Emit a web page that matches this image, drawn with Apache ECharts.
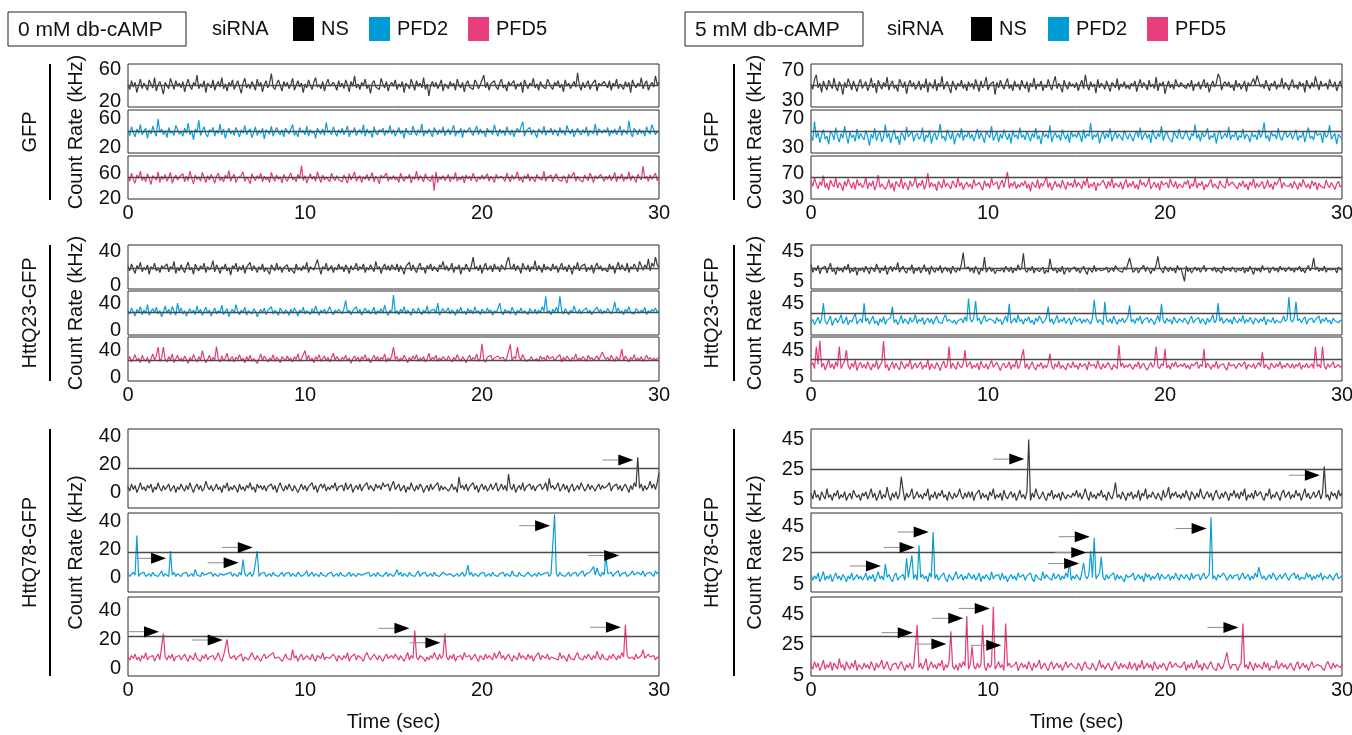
<!DOCTYPE html>
<html>
<head>
<meta charset="utf-8">
<script src="https://cdn.jsdelivr.net/npm/echarts@6/dist/echarts.min.js"></script>
<style>
  html, body { margin: 0; background: #fff; }
  #chart { width: 1352px; height: 735px; }
</style>
</head>
<body>
<div id="chart"></div>
<script>
// one sample every 0.1 s, 0..30 s
const TIME_STEP = 0.1;

// ---- 0 mM db-cAMP ----
const gfp0NS = [
  41,35,46,38,44,31,40,48,36,43,39,34,47,42,37,50,33,41,45,38,29,44,40,36,49,42,35,46,39,43,
  37,45,32,41,48,39,35,44,40,53,36,42,38,46,31,43,40,37,47,34,41,45,38,50,36,42,33,44,39,47,
  35,41,46,38,30,43,49,37,42,36,45,40,34,48,39,44,32,41,46,37,43,55,38,35,42,47,40,33,45,39,
  44,36,41,49,34,40,46,38,43,31,42,37,47,40,35,44,50,38,41,36,45,33,42,48,39,37,44,40,34,46,
  38,43,36,47,41,32,45,39,52,37,42,35,44,40,48,36,41,30,43,46,38,40,35,49,42,37,45,33,41,44,
  39,47,35,42,38,45,31,43,40,36,48,41,34,46,39,43,37,50,35,42,27,40,45,38,44,36,41,47,33,42,
  40,36,45,39,43,34,48,41,37,44,32,42,46,38,40,35,47,43,36,41,39,53,37,44,34,42,40,46,38,35,
  43,48,37,41,33,45,40,38,46,35,42,39,44,31,47,41,36,43,40,49,37,42,34,45,39,41,36,48,43,38,
  35,44,40,46,37,42,32,47,39,43,36,41,45,38,56,40,34,44,37,42,46,35,41,39,47,33,43,40,38,45,
  41,37,46,34,43,39,48,36,42,40,35,45,38,44,31,47,41,37,43,39,50,36,42,46,34,40,44,38,52,41,44];
const gfp0PFD2 = [
  44,37,49,41,35,46,40,52,38,43,47,33,45,39,50,42,36,60,41,46,38,44,34,48,40,43,37,51,45,39,
  42,36,47,40,54,38,44,31,46,41,58,37,43,49,39,35,45,42,48,36,44,40,53,38,46,33,42,47,39,44,
  37,48,42,35,45,40,51,38,43,46,34,41,49,37,44,40,47,32,45,42,39,50,36,43,48,41,38,45,35,47,
  43,39,46,52,37,42,35,48,41,44,38,50,36,45,40,43,33,47,42,39,46,37,55,41,44,38,49,42,36,45,
  40,47,38,43,50,35,44,41,48,37,42,45,39,52,36,46,40,43,34,49,41,38,45,42,47,37,44,40,51,39,
  45,36,42,48,39,44,33,47,41,43,38,50,42,37,45,40,53,36,44,39,46,41,35,48,43,38,45,40,49,37,
  42,46,38,44,51,36,43,40,47,34,45,41,39,48,42,37,44,50,38,46,40,43,35,47,41,44,38,52,42,36,
  46,40,44,37,49,42,38,45,35,43,47,41,39,56,36,44,42,48,38,45,40,34,46,43,39,50,37,44,41,47,
  38,45,42,36,48,40,44,37,51,43,39,46,35,42,47,41,38,45,40,49,36,44,42,39,53,37,46,43,40,45,
  41,48,36,44,40,46,38,43,50,37,45,42,39,57,41,35,47,43,38,46,40,44,36,49,42,39,52,45,38,43,40];
const gfp0PFD5 = [
  55,47,60,50,44,57,52,63,48,54,46,59,51,42,56,53,49,62,45,55,50,58,47,53,61,44,52,57,49,54,
  51,59,46,55,48,63,52,43,57,50,54,47,61,53,45,56,49,58,52,44,55,60,48,53,46,57,51,64,47,54,
  58,45,52,49,56,62,47,54,50,43,59,53,48,56,51,60,46,55,49,53,45,61,52,47,57,50,54,44,58,51,
  47,55,60,49,53,46,58,51,72,48,56,44,52,59,50,55,47,62,53,45,57,49,54,51,46,60,52,48,56,50,
  53,46,57,51,44,59,49,55,62,47,52,56,45,54,50,58,48,53,61,46,55,51,43,57,52,49,60,47,54,50,
  56,49,53,45,60,52,47,55,51,58,44,54,50,63,48,56,52,46,59,51,53,47,57,32,62,45,54,50,56,48,
  52,58,46,54,50,61,47,53,49,56,44,57,51,55,48,60,52,46,54,50,57,50,53,59,47,55,51,45,58,52,
  49,55,51,47,60,53,46,57,50,54,62,48,53,45,56,51,59,47,54,50,46,58,52,55,49,63,47,53,51,57,
  46,54,59,50,53,47,56,51,44,58,52,49,61,47,55,50,53,46,57,52,48,60,54,45,56,51,49,58,53,47,
  55,50,57,48,53,61,46,55,51,59,47,54,50,62,48,56,52,45,58,53,49,71,51,55,47,57,50,53,60,48,52];

const q23_0NS = [
  22,17,25,19,14,23,20,27,16,21,18,24,13,22,19,26,17,21,15,23,20,18,25,16,22,19,28,14,21,17,
  24,19,15,22,27,18,21,13,25,20,17,23,19,26,15,22,18,21,29,16,24,20,14,22,19,25,17,21,12,23,
  20,26,16,22,18,24,14,21,19,27,17,23,20,15,22,18,25,16,21,19,13,24,20,17,26,18,22,15,21,19,
  24,16,20,22,14,25,18,21,17,23,19,27,15,22,20,18,24,30,21,13,22,19,26,17,20,23,15,21,18,25,
  19,22,16,24,20,14,23,18,21,26,17,22,19,25,15,21,18,24,20,16,28,19,22,14,21,25,18,23,17,24,
  21,18,25,16,23,19,13,22,20,27,17,24,19,15,22,26,18,21,14,23,20,25,17,22,19,16,24,21,28,18,
  23,17,20,26,15,22,19,24,13,21,18,25,20,16,23,33,19,22,17,24,14,21,26,18,20,23,16,25,19,22,
  16,24,21,18,27,33,22,19,25,17,23,20,14,26,21,18,24,16,22,19,29,17,23,20,15,25,18,22,21,17,
  25,19,23,15,21,26,18,22,16,24,20,13,23,19,27,17,22,20,25,16,21,18,24,14,22,26,19,23,17,20,
  22,16,25,19,23,14,21,27,18,24,20,17,26,15,22,19,25,21,16,28,23,18,24,20,31,17,26,22,33,24,21];
const q23_0PFD2 = [
  29,24,33,27,21,31,26,35,23,30,25,38,22,28,32,26,34,24,29,20,27,36,25,31,23,35,28,22,40,26,
  33,24,29,21,27,32,25,30,23,36,26,31,22,28,34,25,30,21,27,33,24,29,26,37,23,28,32,20,27,31,
  25,38,28,23,30,26,34,22,29,27,24,32,28,20,26,31,25,33,23,29,27,35,24,30,26,22,33,28,24,30,
  27,22,31,25,33,28,21,30,26,34,24,29,27,23,32,25,36,28,22,30,26,31,24,29,35,27,23,30,26,31,
  28,24,32,44,26,30,23,29,27,35,25,31,22,28,33,26,30,24,28,34,23,29,26,32,25,37,27,22,30,26,
  52,25,29,23,31,27,35,24,30,26,22,32,28,25,33,27,23,30,26,36,24,29,27,31,25,40,22,28,32,26,
  29,33,24,30,27,22,31,26,34,25,28,23,32,27,30,24,35,26,29,23,31,28,25,33,27,30,22,29,26,32,
  40,27,23,31,26,29,24,34,28,22,30,26,33,25,29,27,23,32,28,25,31,24,30,26,35,28,50,25,29,23,
  31,27,34,26,50,29,24,32,27,23,30,26,36,28,25,31,24,29,27,33,25,30,23,28,26,34,27,31,24,29,
  26,32,28,24,30,42,27,33,25,29,23,31,27,35,26,28,24,32,29,25,30,27,34,23,29,26,31,28,33,27,29];
const q23_0PFD5 = [
  26,31,23,28,34,25,29,22,33,27,24,30,21,28,35,26,32,45,24,29,45,27,23,31,26,35,22,28,33,25,
  29,24,32,27,21,30,25,34,28,23,31,26,40,29,22,27,33,24,30,26,46,28,23,32,25,29,36,24,28,31,
  23,30,27,34,25,29,22,31,26,33,24,28,30,21,27,35,25,32,28,23,29,26,34,24,30,27,22,31,28,25,
  32,26,29,23,31,27,35,24,28,30,40,26,33,25,29,22,31,27,34,24,28,32,25,30,23,29,36,26,31,27,
  24,30,27,33,25,29,21,28,32,26,30,23,31,27,34,25,29,22,28,33,26,31,24,30,27,35,23,29,26,32,
  45,27,31,24,29,26,33,28,22,30,25,32,27,34,24,29,26,31,23,28,36,25,30,27,33,24,29,26,31,28,
  25,32,27,23,30,26,34,28,24,31,27,22,29,33,25,30,27,35,24,28,50,26,23,30,28,33,25,29,27,32,
  28,26,30,24,29,27,49,25,31,28,45,30,26,34,28,24,24,27,31,25,25,28,24,32,27,30,25,33,28,26,
  31,25,29,27,34,23,30,26,32,28,24,30,27,35,25,29,26,31,28,24,33,27,30,25,29,32,26,28,38,31,
  27,30,25,33,28,24,31,26,29,42,25,32,28,23,30,27,34,25,29,26,31,24,28,33,27,30,25,29,26,28,30];

const q78_0NS = [
  4,1,6,2,5,0,3,7,2,4,1,5,3,6,0,4,2,7,3,1,5,2,4,6,1,3,5,0,4,2,
  6,3,1,5,2,7,3,0,4,6,2,5,1,3,8,4,2,5,1,3,6,2,4,0,5,3,7,1,4,2,
  5,3,0,6,2,4,1,5,3,7,2,4,0,6,3,5,2,5,1,4,3,6,2,5,0,4,7,3,1,5,
  2,6,3,1,5,4,0,3,6,2,5,1,4,3,7,2,5,0,4,6,3,6,1,4,2,5,3,7,1,4,
  3,5,1,7,2,4,6,0,3,5,2,6,1,4,3,7,2,5,4,1,6,3,5,2,7,4,3,6,1,5,
  8,2,4,6,1,3,5,0,4,2,7,3,1,5,2,6,4,0,3,5,1,6,2,4,3,7,1,5,2,4,
  5,1,3,6,2,4,0,11,3,5,2,6,1,4,3,7,2,5,0,4,6,2,5,1,3,6,2,4,7,1,
  3,6,2,5,1,13,4,2,6,0,3,5,2,7,1,4,3,6,2,5,1,4,3,6,2,4,7,1,10,3,
  5,2,4,7,1,3,6,2,5,0,4,6,1,3,5,2,7,4,1,3,6,2,5,3,1,4,6,2,5,3,
  2,5,7,1,4,3,6,2,5,1,4,6,3,0,5,2,7,4,25,3,6,1,5,2,4,8,3,6,2,7,14];
const q78_0PFD2 = [
  3,1,2,4,2,30,1,3,2,4,1,2,3,1,4,2,3,1,2,5,1,3,2,1,19,2,4,1,3,2,
  1,3,2,4,1,2,3,1,6,2,3,1,4,2,1,3,2,4,1,3,2,1,3,4,2,1,3,2,4,1,
  3,2,1,4,2,13,3,1,2,4,1,3,2,19,1,3,2,4,1,2,3,1,4,2,3,1,2,4,1,3,
  2,4,1,3,2,1,4,3,1,2,3,5,1,2,4,1,3,2,1,4,2,3,1,3,2,4,1,2,3,1,
  4,2,3,1,2,4,1,3,2,1,3,4,2,1,3,2,4,1,2,3,1,4,2,3,1,2,4,1,3,2,
  1,3,6,2,4,1,3,2,1,4,2,3,1,2,5,1,3,2,4,1,2,3,1,4,2,3,1,2,4,3,
  2,1,3,4,1,2,3,1,2,4,1,3,9,2,4,1,3,2,1,3,2,4,1,2,3,1,4,2,3,1,
  3,2,4,1,3,2,1,5,2,3,1,4,2,3,1,2,4,3,1,2,3,1,4,2,1,3,2,4,1,3,
  2,45,3,1,4,2,3,1,2,4,1,3,2,4,1,3,2,5,1,3,2,4,3,8,2,7,3,1,4,2,
  16,3,2,4,1,3,2,5,1,3,2,4,1,2,3,5,2,1,4,3,2,5,1,3,2,4,3,1,5,3,4];
const q78_0PFD5 = [
  8,6,9,7,10,6,8,5,9,7,11,6,8,7,9,5,8,10,6,7,24,8,6,9,7,10,5,8,7,9,
  6,8,10,7,5,9,8,6,11,7,8,5,9,7,10,6,8,7,9,6,8,11,7,5,9,8,20,10,7,8,
  9,6,8,7,10,5,8,9,6,7,11,8,6,9,7,5,8,10,7,6,9,8,11,7,6,8,9,5,7,10,
  7,8,6,13,7,9,5,8,10,6,7,9,8,6,10,7,5,9,8,7,11,6,8,9,7,6,10,8,5,9,
  8,6,9,7,11,5,8,7,10,6,9,8,7,5,9,11,8,6,7,10,8,6,9,7,5,8,10,7,6,9,
  7,10,8,6,9,7,5,8,11,6,9,7,26,8,6,9,10,7,5,8,6,9,7,11,8,6,10,7,9,24,
  8,6,9,7,10,5,8,7,9,6,11,8,7,9,6,8,10,7,5,9,8,6,10,7,9,8,6,11,7,8,
  12,7,9,6,8,10,7,5,9,8,6,11,7,9,8,6,10,7,9,5,8,7,11,6,9,8,7,10,6,8,
  9,7,8,6,11,7,9,8,5,10,7,8,6,9,11,7,8,6,9,7,10,8,6,9,7,12,8,6,10,7,
  8,6,9,7,10,8,6,9,7,11,8,30,9,7,7,8,6,10,7,8,9,13,7,6,10,8,7,9,6,8,7];

// ---- 5 mM db-cAMP ----
const gfp5NS = [
  52,45,58,64,47,53,41,56,49,44,57,51,46,60,48,43,55,50,38,54,47,59,52,44,56,49,42,53,58,46,
  51,55,43,49,60,47,53,40,57,50,45,54,48,61,44,52,56,46,50,42,58,53,47,55,39,51,57,48,54,45,
  49,56,44,52,47,59,41,54,50,46,58,43,53,48,62,45,51,55,47,40,56,50,44,53,49,57,46,52,43,55,
  48,53,45,58,50,42,56,47,52,61,44,51,49,55,38,54,47,57,50,45,53,59,46,51,43,56,48,52,44,57,
  50,46,55,41,53,48,60,45,52,49,56,43,51,47,58,50,44,54,62,46,53,48,41,57,50,45,55,49,52,47,
  54,43,51,57,46,64,50,44,55,48,52,40,58,47,53,50,45,56,49,42,54,51,47,59,44,52,48,55,46,50,
  45,53,49,56,42,51,58,47,54,50,44,57,48,52,46,61,43,53,50,55,39,49,56,47,52,45,58,51,48,54,
  50,50,46,53,48,57,43,52,49,55,45,51,58,47,54,41,50,56,48,53,65,60,44,52,55,49,55,47,51,43,
  57,48,53,45,50,56,42,54,49,47,59,51,63,55,48,52,46,57,50,43,53,49,56,45,51,48,60,46,54,50,
  44,52,58,47,51,45,55,49,53,41,57,50,46,54,48,62,52,44,56,49,47,53,45,58,51,48,55,43,50,56,47];
const gfp5PFD2 = [
  47,40,66,44,51,37,48,55,42,46,35,53,49,41,58,45,38,50,43,60,47,36,52,44,48,39,56,42,50,45,
  41,54,46,33,49,43,57,40,48,52,38,45,62,44,50,37,47,55,42,46,34,51,48,40,59,45,43,53,39,47,
  50,42,45,58,38,48,44,54,36,47,51,41,49,63,43,46,39,55,48,42,52,35,46,50,44,57,40,48,45,53,
  43,49,39,47,56,42,51,45,37,53,48,44,60,40,46,52,38,49,43,55,47,41,50,36,54,45,48,42,58,44,
  48,41,53,46,39,50,44,57,42,47,35,52,45,49,43,61,38,46,51,44,48,40,55,47,42,50,37,53,45,49,
  44,52,47,38,55,43,49,46,64,41,48,45,51,36,47,53,42,50,44,57,39,46,52,43,49,45,40,54,47,42,
  50,45,39,48,53,44,58,41,47,51,43,49,37,55,46,42,50,45,60,40,48,53,44,46,38,52,47,43,56,45,
  42,48,54,45,40,50,46,62,43,49,39,52,45,48,57,41,47,44,51,36,49,54,42,46,50,44,59,41,48,45,
  53,40,47,44,56,42,49,46,38,51,45,48,41,55,44,50,65,43,47,39,52,46,49,42,57,45,40,48,53,44,
  46,51,42,48,55,40,47,44,52,38,49,58,43,46,41,54,47,45,50,37,53,44,48,61,42,46,50,35,49,45,43];
const gfp5PFD5 = [
  58,49,62,53,45,56,50,66,47,54,43,59,52,48,63,46,55,51,42,57,49,61,53,46,56,44,60,50,54,47,
  52,63,45,55,49,58,43,51,67,47,53,56,44,50,60,46,54,41,57,52,48,62,45,55,50,43,58,49,53,64,
  46,54,50,59,44,52,70,47,55,49,53,42,57,51,46,61,48,54,50,45,58,52,47,63,49,55,44,51,56,48,
  53,45,60,50,47,55,52,43,58,49,54,46,62,51,48,56,44,53,59,47,50,72,46,54,49,57,45,52,48,55,
  50,58,46,53,41,56,51,47,60,45,54,49,52,64,47,55,43,50,57,48,53,46,59,51,44,56,50,54,47,61,
  48,55,51,45,58,50,63,46,53,49,56,42,54,50,47,59,52,45,57,49,62,46,54,51,48,56,44,53,60,47,
  54,49,57,46,52,44,60,51,55,48,53,62,45,50,56,47,54,43,58,51,49,55,46,61,52,48,57,45,53,50,
  47,56,52,59,45,53,49,64,46,54,50,57,43,52,48,55,60,47,53,49,45,58,51,54,46,62,50,48,56,52,
  51,45,55,49,58,47,53,43,56,50,61,46,54,48,52,57,45,50,59,47,53,44,56,51,48,63,46,55,50,53,
  49,54,46,57,51,44,55,48,60,52,47,53,45,58,50,56,43,54,49,52,46,59,51,47,55,50,44,53,57,48,51];

const q23_5NS = [
  27,17,23,19,26,15,22,20,25,16,23,29,18,21,14,24,19,22,17,25,20,28,16,21,18,24,13,22,19,23,
  17,25,20,15,24,21,18,28,22,16,23,19,26,14,21,25,18,24,20,30,17,22,25,19,16,23,20,27,15,22,
  19,24,16,21,27,18,22,14,25,20,17,23,19,26,16,21,24,18,22,15,25,20,17,23,19,28,43,22,20,24,
  18,23,16,25,20,14,22,19,37,17,21,24,18,22,15,20,20,19,23,17,25,21,18,24,16,22,19,27,20,23,
  42,20,17,23,19,25,16,22,21,18,21,24,15,20,17,35,22,19,23,16,21,18,25,14,20,23,17,21,19,24,
  18,22,16,21,25,19,14,23,20,17,26,18,22,22,19,21,21,24,17,20,23,18,26,22,19,21,17,24,20,18,
  36,25,17,20,23,16,21,19,26,18,24,20,15,22,19,27,38,23,20,16,25,21,18,24,19,22,16,26,20,23,
  21,5,25,18,22,16,20,24,19,23,17,21,26,18,22,20,22,19,24,17,21,23,16,25,19,20,22,18,24,21,
  17,21,22,19,24,16,21,18,25,20,14,23,19,22,17,26,20,18,23,16,21,24,19,22,17,25,20,23,18,21,
  24,19,22,17,23,20,25,18,21,16,22,26,19,23,36,20,24,18,22,19,25,17,21,23,20,19,22,16,24,21,20];
const q23_5PFD2 = [
  16,21,13,19,24,15,22,45,18,14,20,26,12,19,23,16,21,28,15,18,25,13,20,17,23,30,14,19,22,16,
  45,18,23,14,20,26,15,19,12,22,17,25,14,20,18,24,40,16,21,13,19,27,15,22,18,14,24,17,20,28,
  15,21,18,24,13,19,23,16,22,14,20,26,17,19,15,23,28,18,21,21,16,20,14,19,19,22,16,25,18,52,
  21,17,24,48,19,23,14,20,27,18,16,22,22,19,15,24,18,21,13,20,26,17,44,15,19,23,16,28,18,21,
  14,22,19,25,16,20,13,23,18,26,21,15,19,24,40,17,22,14,20,27,16,21,18,24,15,19,23,13,20,25,
  18,18,22,15,21,17,22,20,14,23,50,25,16,21,18,13,47,20,17,22,15,26,19,14,21,18,23,16,20,24,
  42,17,21,15,23,19,26,14,20,18,24,16,22,19,13,21,27,17,44,20,15,23,18,21,14,25,19,16,22,20,
  17,23,19,14,21,26,16,20,18,24,15,22,19,13,23,17,21,28,16,20,45,18,24,15,19,22,17,21,14,25,
  19,16,22,18,27,15,21,17,24,19,14,23,20,16,22,18,25,13,21,19,17,24,15,20,22,16,19,26,18,21,
  54,20,17,23,47,19,22,16,21,25,14,20,18,23,16,21,19,26,15,22,18,24,17,20,14,23,19,21,16,20,18];
const q23_5PFD5 = [
  22,27,18,50,24,59,20,26,16,23,31,19,25,17,28,21,50,18,24,29,45,22,17,26,20,30,15,23,27,19,
  24,18,28,21,16,25,20,30,17,23,27,58,19,24,15,22,28,18,26,20,16,29,23,18,25,21,32,17,22,26,
  19,24,28,17,23,20,31,16,25,21,18,27,22,15,24,29,19,23,50,18,26,21,17,28,22,19,25,45,20,24,
  28,18,23,20,26,16,29,22,19,25,17,24,30,20,18,27,21,15,23,26,19,22,28,17,24,20,31,18,23,21,
  46,19,25,17,22,28,20,16,24,21,27,18,23,19,26,40,22,17,25,20,29,18,23,21,16,26,22,19,28,20,
  23,17,26,21,19,25,16,28,22,20,24,18,30,21,17,25,19,23,27,20,16,24,22,18,52,21,26,19,23,20,
  25,20,17,24,21,28,18,23,26,19,16,22,27,20,24,50,21,18,25,22,47,19,23,17,26,21,28,20,18,24,
  21,26,19,23,17,25,22,20,28,18,24,21,47,19,26,22,17,24,20,29,18,23,21,25,19,16,27,22,20,24,
  18,23,26,21,19,28,17,24,22,20,25,18,23,27,21,42,19,24,20,17,26,22,19,25,21,28,18,23,20,26,
  22,19,25,18,24,21,27,17,23,20,26,19,22,25,18,50,21,24,19,50,22,17,25,20,23,28,19,21,24,20,22];

const q78_5NS = [
  9,5,11,6,8,4,10,7,5,12,6,8,4,9,7,11,5,8,6,10,4,7,9,5,11,8,6,8,4,9,
  7,10,5,8,12,6,9,4,7,11,5,8,6,13,7,4,9,6,10,5,8,20,11,4,9,6,8,12,5,7,
  10,6,8,5,9,7,12,4,8,6,10,5,9,7,11,6,8,4,10,7,5,9,6,8,12,7,5,9,6,10,
  6,10,4,8,7,11,5,9,6,8,4,10,7,12,5,8,6,9,4,11,7,5,8,10,6,9,4,7,11,6,
  8,5,10,45,4,9,6,12,8,5,7,10,6,4,9,7,11,5,8,6,9,4,10,7,5,8,8,6,9,7,
  11,6,9,5,8,12,7,4,10,6,8,5,9,7,11,6,8,4,10,7,5,9,16,6,8,5,10,7,4,9,
  7,10,5,8,6,11,4,9,7,12,5,8,6,10,7,5,9,8,4,11,6,8,13,5,9,7,10,6,8,5,
  9,6,11,7,4,10,8,5,9,6,12,7,5,8,10,6,9,4,8,11,7,5,9,6,10,8,4,9,7,11,
  6,9,5,10,7,12,4,8,6,9,5,11,7,8,10,6,4,9,7,12,5,8,6,10,7,4,9,11,6,8,
  10,5,8,6,11,7,9,4,8,12,6,9,5,7,10,6,8,11,5,9,27,6,8,4,10,7,9,5,11,7,9];
const q78_5PFD2 = [
  12,8,11,9,13,7,10,14,8,11,9,12,7,10,13,9,11,8,12,10,7,11,9,13,8,10,12,9,11,8,
  10,13,8,11,9,12,7,10,14,9,11,8,19,10,12,9,7,11,13,8,10,9,12,8,23,10,11,25,9,12,
  8,32,10,12,9,11,7,13,10,41,9,12,8,10,11,13,9,7,12,10,8,11,14,9,10,12,8,11,9,13,
  11,9,12,8,10,13,7,11,9,12,10,8,14,9,11,10,12,8,13,9,11,7,10,12,9,11,8,13,10,9,
  12,8,11,10,13,9,7,12,10,11,8,14,9,12,10,11,8,13,9,10,12,8,11,9,13,10,21,8,11,9,
  12,10,8,13,20,11,9,12,28,10,37,9,11,13,24,10,8,12,9,11,10,13,8,12,9,11,10,7,12,10,
  9,11,13,8,10,12,9,11,7,13,10,12,8,11,9,10,13,8,12,11,9,10,12,8,11,9,13,10,8,12,
  11,9,12,10,8,13,9,11,10,12,8,11,13,9,10,12,51,9,11,8,12,10,9,13,11,8,10,12,9,11,
  10,12,8,11,13,9,10,12,8,11,9,13,10,17,12,9,11,8,10,12,9,13,11,8,10,12,9,11,13,10,
  8,11,10,13,9,12,8,10,11,9,13,10,12,8,11,9,12,10,13,8,11,10,9,12,10,8,11,13,9,10,11];
const q78_5PFD5 = [
  12,9,14,10,13,8,11,15,9,12,10,14,8,13,11,9,16,10,12,8,14,11,9,13,10,15,8,12,11,9,
  13,10,12,9,14,11,8,13,10,12,15,9,11,14,10,8,12,11,13,9,10,14,11,8,12,10,13,9,11,12,
  38,10,13,9,12,16,8,11,14,10,12,9,13,11,15,8,12,10,14,34,11,9,12,8,13,10,14,11,44,9,
  12,24,11,9,13,10,12,38,11,8,13,10,12,50,9,11,14,10,12,8,39,11,13,10,9,12,14,8,11,13,
  10,12,9,14,11,8,13,10,12,15,9,11,13,10,8,12,14,9,11,13,10,12,8,11,14,10,9,13,11,12,
  9,13,11,8,12,14,10,11,9,13,12,8,11,15,10,12,9,11,13,10,8,12,14,11,9,13,10,12,11,9,
  14,9,11,13,8,12,10,15,9,11,13,10,12,8,14,11,9,12,10,13,11,8,12,14,10,9,13,11,12,10,
  11,14,8,12,10,13,9,11,15,10,12,8,13,11,9,12,14,10,11,8,13,12,9,11,10,20,13,9,12,11,
  12,8,11,13,39,10,12,9,14,11,8,13,10,12,11,9,14,10,13,8,11,12,10,15,9,11,13,10,12,9,
  11,13,10,8,12,14,9,11,13,10,12,8,11,14,10,9,12,13,11,10,8,12,14,11,9,13,10,12,11,10,12];

// arrows: [time of arrow tip (s), count rate (kHz)]
const arrows0NS = [[28.55, 23]];
const arrows0PFD2 = [[2.15, 13.9], [6.25, 10.7], [7.05, 21.6], [23.85, 37], [27.75, 15.8]];
const arrows0PFD5 = [[1.75, 25.3], [5.35, 19.6], [15.9, 27.6], [17.65, 17.7], [27.85, 28.3]];
const arrows5NS = [[12.05, 31.8], [28.75, 21]];
const arrows5PFD2 = [[3.95, 17.8], [5.85, 30.5], [6.65, 41], [15.15, 19.4], [15.55, 27], [15.75, 37.8], [22.35, 43.4]];
const arrows5PFD5 = [[5.75, 33], [7.65, 25.5], [8.6, 42.5], [10.1, 49], [10.75, 24.7], [24.15, 36.5]];

// reference lines (kHz), per row: NS, PFD2, PFD5
const thr0 = [[40, 42.5, 53], [20.5, 26, 25.5], [17, 18, 22]];
const thr5 = [[50, 52.5, 64], [23, 30, 31], [25, 27, 30.5]];

// y ranges and labelled values
const range0 = [[[13, 67], [13, 72], [19, 87]], [[-4, 47], [-7, 58], [-5, 60]], [[-11, 45], [-10, 46], [-5, 49]]];
const range5 = [[[22, 78], [23, 82], [29, 97]], [[-5, 53], [-2, 63], [0, 64]], [[-1, 52], [0, 54], [4.5, 56.5]]];
const ticks0 = [[20, 60], [0, 40], [0, 20, 40]];
const ticks5 = [[30, 70], [5, 45], [5, 25, 45]];
const timeTicks = [0, 10, 20, 30];

const rowNames = ['GFP', 'HttQ23-GFP', 'HttQ78-GFP'];
const siRNA = ['NS', 'PFD2', 'PFD5'];
const conditions = ['0 mM db-cAMP', '5 mM db-cAMP'];

const traces = [
  [[gfp0NS, gfp0PFD2, gfp0PFD5], [q23_0NS, q23_0PFD2, q23_0PFD5], [q78_0NS, q78_0PFD2, q78_0PFD5]],
  [[gfp5NS, gfp5PFD2, gfp5PFD5], [q23_5NS, q23_5PFD2, q23_5PFD5], [q78_5NS, q78_5PFD2, q78_5PFD5]]
];
const arrowSets = [
  [null, null, [arrows0NS, arrows0PFD2, arrows0PFD5]],
  [null, null, [arrows5NS, arrows5PFD2, arrows5PFD5]]
];

// ---- layout / style ----
const FONT = "'Liberation Sans', Arial, Helvetica, sans-serif";
const FS = 20;
const traceColor = ['#3a3a3a', '#0a9fd8', '#e43b7c'];
const keyColor = ['#000000', '#009bd5', '#e83e7e'];
const colLeft = [128, 811];
const colWidth = 531;
const rowTops = [[64, 110, 156], [245, 291, 337], [429, 513, 597]];
const rowHeight = [43, 44, 79];

function arrowItem(params, api) {
  const p = api.coord([api.value(0), api.value(1)]);
  const x = p[0], y = p[1];
  return {
    type: 'group',
    children: [
      {type: 'line', shape: {x1: x - 31, y1: y, x2: x - 13, y2: y}, style: {stroke: '#8c8c8c', lineWidth: 1}},
      {type: 'polygon', shape: {points: [[x, y], [x - 15, y - 5.5], [x - 15, y + 5.5]]}, style: {fill: '#000'}}
    ]
  };
}

const grids = [], xAxes = [], yAxes = [], series = [];
let k = 0;
for (let c = 0; c < 2; c++) {
  const ranges = c === 0 ? range0 : range5;
  const ticks = c === 0 ? ticks0 : ticks5;
  const thr = c === 0 ? thr0 : thr5;
  for (let r = 0; r < 3; r++) {
    for (let s = 0; s < 3; s++) {
      grids.push({
        left: colLeft[c], top: rowTops[r][s], width: colWidth, height: rowHeight[r],
        containLabel: false, outerBoundsMode: 'none',
        show: true, borderColor: '#2b2b2b', borderWidth: 1
      });
      xAxes.push({
        gridIndex: k, type: 'value', min: 0, max: 30, interval: 10,
        axisLine: {show: false}, axisTick: {show: false}, splitLine: {show: false},
        axisLabel: {show: s === 2, customValues: timeTicks, margin: 4, fontSize: FS, fontFamily: FONT, color: '#111'}
      });
      yAxes.push({
        gridIndex: k, type: 'value', min: ranges[r][s][0], max: ranges[r][s][1],
        axisLine: {show: false}, axisTick: {show: false}, splitLine: {show: false},
        axisLabel: {customValues: ticks[r], margin: 7, fontSize: FS, fontFamily: FONT, color: '#111'}
      });
      series.push({
        type: 'line', xAxisIndex: k, yAxisIndex: k, symbol: 'none',
        data: traces[c][r][s].map((v, i) => [+(i * TIME_STEP).toFixed(2), v]),
        lineStyle: {width: 1.2, color: traceColor[s]},
        markLine: {
          silent: true, symbol: 'none', label: {show: false},
          lineStyle: {color: '#4a4a4a', width: 1.4, type: 'solid'},
          data: [{yAxis: thr[r][s]}]
        }
      });
      if (arrowSets[c][r]) {
        series.push({
          type: 'custom', xAxisIndex: k, yAxisIndex: k, z: 5,
          data: arrowSets[c][r][s], renderItem: arrowItem
        });
      }
      k++;
    }
  }
}

// labels, legends and brackets
const graphic = [];
function txt(x, y, text, size, align) {
  graphic.push({
    type: 'text', x: x, y: y,
    style: {text: text, fontSize: size || FS, fontFamily: FONT, fill: '#111', align: align || 'left', verticalAlign: 'middle'}
  });
}
function vtxt(x, y, text) {
  graphic.push({
    type: 'text', x: x, y: y, rotation: Math.PI / 2,
    style: {text: text, fontSize: FS, fontFamily: FONT, fill: '#111', align: 'center', verticalAlign: 'middle'}
  });
}

const legendX = [
  {box: 8, label: 18, si: 212, keys: [293, 369, 468], names: [321, 397, 496]},
  {box: 685, label: 695, si: 887, keys: [971, 1048, 1147], names: [999, 1076, 1175]}
];
const rowSpan = [[64, 200], [245, 381], [429, 676]];
const rowLabelX = [[30, 50, 76], [712, 734, 755]];

for (let c = 0; c < 2; c++) {
  const L = legendX[c];
  graphic.push({type: 'rect', shape: {x: L.box, y: 12, width: 178, height: 34},
    style: {fill: '#fff', stroke: '#222', lineWidth: 1}});
  txt(L.label, 30, conditions[c], 21);
  txt(L.si, 29, 'siRNA');
  for (let s = 0; s < 3; s++) {
    graphic.push({type: 'rect', shape: {x: L.keys[s], y: 17, width: 21, height: 24}, style: {fill: keyColor[s]}});
    txt(L.names[s], 29, siRNA[s]);
  }
  for (let r = 0; r < 3; r++) {
    const mid = (rowSpan[r][0] + rowSpan[r][1]) / 2;
    vtxt(rowLabelX[c][0], mid, rowNames[r]);
    graphic.push({type: 'line', shape: {x1: rowLabelX[c][1], y1: rowSpan[r][0], x2: rowLabelX[c][1], y2: rowSpan[r][1]},
      style: {stroke: '#000', lineWidth: 2}});
    vtxt(rowLabelX[c][2], mid, 'Count Rate (kHz)');
  }
  txt(colLeft[c] + colWidth / 2, 722, 'Time (sec)', FS, 'center');
}

const chart = echarts.init(document.getElementById('chart'));
chart.setOption({
  animation: false,
  backgroundColor: '#fff',
  grid: grids,
  xAxis: xAxes,
  yAxis: yAxes,
  series: series,
  graphic: graphic
});
</script>
</body>
</html>
